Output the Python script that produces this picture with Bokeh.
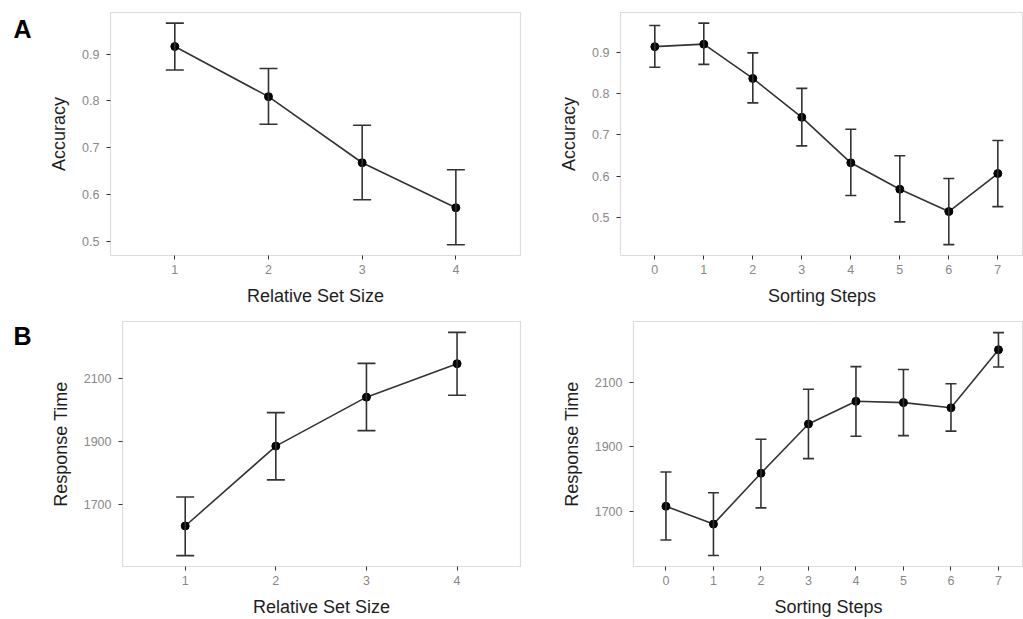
from bokeh.plotting import figure
from bokeh.models import ColumnDataSource, Whisker, TeeHead, FixedTicker, Range1d
from bokeh.core.properties import value
from bokeh.layouts import column, row
from bokeh.embed import file_html
from bokeh.resources import INLINE

# ---------------- data ----------------
set_size = [1, 2, 3, 4]
acc_set_mean = [0.916, 0.809, 0.668, 0.572]
acc_set_lo = [0.866, 0.750, 0.589, 0.493]
acc_set_hi = [0.966, 0.869, 0.748, 0.653]

steps = [0, 1, 2, 3, 4, 5, 6, 7]
acc_step_mean = [0.913, 0.919, 0.836, 0.742, 0.632, 0.568, 0.514, 0.606]
acc_step_lo = [0.863, 0.870, 0.777, 0.673, 0.553, 0.489, 0.434, 0.526]
acc_step_hi = [0.964, 0.970, 0.898, 0.812, 0.713, 0.649, 0.594, 0.686]

rt_set_mean = [1633, 1886, 2041, 2147]
rt_set_lo = [1539, 1779, 1935, 2047]
rt_set_hi = [1725, 1992, 2148, 2246]

rt_step_mean = [1717, 1662, 1819, 1971, 2041, 2037, 2021, 2200]
rt_step_lo = [1613, 1565, 1712, 1864, 1933, 1935, 1949, 2147]
rt_step_hi = [1823, 1759, 1924, 2078, 2148, 2139, 2095, 2253]

acc_ticks = [0.5, 0.6, 0.7, 0.8, 0.9]
rt_ticks = [1700, 1900, 2100]
panel_letters = ["A", "B"]

FONT = "Liberation Sans"
TICK_COLOR = "#888888"
TITLE_COLOR = "#1e1e1e"
LINE_COLOR = "#333333"
LABEL_W = 40


def panel(x, mean, lo, hi, xr, yr, yticks, xlabel, ylabel, width, height,
          bl, br, bt, bb, cap):
    p = figure(width=width, height=height, output_backend="svg",
               toolbar_location=None, x_range=Range1d(*xr), y_range=Range1d(*yr),
               min_border_left=bl, min_border_right=br,
               min_border_top=bt, min_border_bottom=bb)
    p.background_fill_color = "white"
    p.border_fill_color = "white"
    p.outline_line_color = "#dcdcdc"
    p.outline_line_width = 1.2
    p.grid.visible = False

    src = ColumnDataSource(dict(x=x, mean=mean, lo=lo, hi=hi))
    w = Whisker(base="x", upper="hi", lower="lo", source=src, dimension="height",
                line_color=LINE_COLOR, line_width=1.6, level="glyph",
                upper_head=TeeHead(size=cap, line_color=LINE_COLOR, line_width=1.6),
                lower_head=TeeHead(size=cap, line_color=LINE_COLOR, line_width=1.6))
    p.add_layout(w)
    p.line("x", "mean", source=src, line_color=LINE_COLOR, line_width=1.6)
    p.scatter("x", "mean", source=src, size=8, color="black")

    p.xaxis.ticker = FixedTicker(ticks=list(x))
    p.yaxis.ticker = FixedTicker(ticks=list(yticks))
    for ax in (p.xaxis[0], p.yaxis[0]):
        ax.axis_line_color = None
        ax.major_tick_line_color = LINE_COLOR
        ax.major_tick_line_width = 1
        ax.major_tick_out = 4
        ax.major_tick_in = 0
        ax.minor_tick_line_color = None
        ax.major_label_text_font = FONT
        ax.major_label_text_font_size = "12.5px"
        ax.major_label_text_color = TICK_COLOR
        ax.axis_label_text_font = FONT
        ax.axis_label_text_font_size = "18px"
        ax.axis_label_text_font_style = "normal"
        ax.axis_label_text_color = TITLE_COLOR
    p.xaxis.major_label_standoff = 5
    p.xaxis.axis_label_standoff = 9
    p.yaxis.major_label_standoff = 7
    p.yaxis.axis_label_standoff = 10
    p.xaxis.axis_label = xlabel
    p.yaxis.axis_label = ylabel
    return p


def letter_fig(letter, height, baseline_y):
    f = figure(width=LABEL_W, height=height, output_backend="svg",
               toolbar_location=None, x_range=Range1d(0, LABEL_W),
               y_range=Range1d(height, 0), x_axis_type=None, y_axis_type=None,
               min_border=0)
    f.title = None
    f.outline_line_color = None
    f.grid.visible = False
    f.text(x=[13], y=[baseline_y], text=[letter], text_font=value(FONT),
           text_font_size="25px", text_font_style="bold", text_color="black",
           text_baseline="alphabetic", text_align="left")
    return f


TOP_H, BOT_H = 308, 311

pA1 = panel(set_size, acc_set_mean, acc_set_lo, acc_set_hi,
            (0.3136, 4.69), (0.470, 0.9886), acc_ticks,
            "Relative Set Size", "Accuracy", 530 - LABEL_W, TOP_H, 110 - LABEL_W, 10, 12, 50, 18)
pA2 = panel(steps, acc_step_mean, acc_step_lo, acc_step_hi,
            (-0.700, 7.524), (0.4077, 0.9956), acc_ticks,
            "Sorting Steps", "Accuracy", 493, TOP_H, 90, 0, 12, 50, 11)
pB1 = panel(set_size, rt_set_mean, rt_set_lo, rt_set_hi,
            (0.308, 4.70), (1504.7, 2280.5), rt_ticks,
            "Relative Set Size", "Response Time", 530 - LABEL_W, BOT_H, 122 - LABEL_W, 10, 13, 52, 18)
pB2 = panel(steps, rt_step_mean, rt_step_lo, rt_step_hi,
            (-0.683, 7.527), (1531.2, 2287.2), rt_ticks,
            "Sorting Steps", "Response Time", 493, BOT_H, 103, 0, 13, 52, 11)

lA = letter_fig(panel_letters[0], TOP_H, 21)
lB = letter_fig(panel_letters[1], BOT_H, 19)

layout = column(row(lA, pA1, pA2), row(lB, pB1, pB2))
open("out.html", "w").write(file_html(layout, INLINE))
